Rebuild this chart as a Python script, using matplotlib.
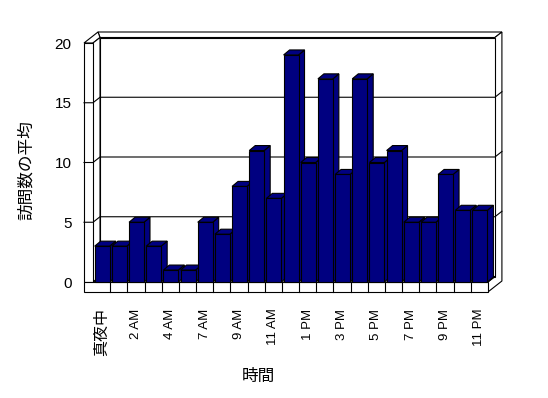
import matplotlib
matplotlib.use('Agg')
import matplotlib.pyplot as plt
from matplotlib.patches import Polygon, Rectangle

# average visits per hour (no 6 AM slot in the source data)
hours = ['真夜中', '1 AM', '2 AM', '3 AM', '4 AM', '5 AM', '7 AM', '8 AM', '9 AM', '10 AM',
         '11 AM', '12 PM', '1 PM', '2 PM', '3 PM', '4 PM', '5 PM', '6 PM', '7 PM', '8 PM',
         '9 PM', '10 PM', '11 PM']
visits = [3, 3, 5, 3, 1, 1, 5, 4, 8, 11, 7, 19, 10, 17, 9, 17, 10, 11, 5, 5, 9, 6, 6]
y_ticks = [0, 5, 10, 15, 20]

BAR = '#000080'
LW = 0.8
SX, SY = 17.17, 11.95          # pixels per category / per unit
DX, DY = 7 / SX, 5.5 / SY      # depth of the walls
BDX, BDY = 6 / SX, 5 / SY      # depth of the bars
W, H = 9 / SX, 10 / SY         # thickness of left wall and floor

fig = plt.figure(figsize=(5.48, 3.98), dpi=100)
ax = fig.add_axes([80 / 548, (398 - 296) / 398, 426 / 548, 266 / 398])
ax.set_xlim((80 - 93) / SX, (506 - 93) / SX)
ax.set_ylim((282 - 296) / SY, (282 - 30) / SY)
for s in ax.spines.values():
    s.set_visible(False)

n = len(visits)
X1 = n
YT = y_ticks[-1]


def poly(pts, fc='white', z=1):
    ax.add_patch(Polygon(pts, closed=True, facecolor=fc, edgecolor='black',
                         lw=LW, zorder=z, clip_on=False))


# walls and floor
poly([(DX, YT + DY), (X1 + DX, YT + DY), (X1 + 2 * DX, YT + 2 * DY), (-W + 2 * DX, YT + 2 * DY)])
poly([(-W, YT), (0, YT), (DX, YT + DY), (-W + 2 * DX, YT + 2 * DY)])
poly([(X1 + DX, YT + DY), (X1 + 2 * DX, YT + 2 * DY), (X1 + 2 * DX, -H + 2 * DY),
      (X1, -H), (X1, 0), (X1 + DX, DY)])
ax.add_patch(Rectangle((DX, DY), X1, YT, facecolor='white', edgecolor='black',
                       lw=LW, zorder=1, clip_on=False))
poly([(0, 0), (0, YT), (DX, YT + DY), (DX, DY)])
poly([(0, 0), (X1, 0), (X1 + DX, DY), (DX, DY)])
ax.add_patch(Rectangle((-W, 0), W, YT, facecolor='white', edgecolor='black',
                       lw=LW, zorder=1, clip_on=False))
ax.add_patch(Rectangle((-W, -H), X1 + W, H, facecolor='white', edgecolor='black',
                       lw=LW, zorder=1, clip_on=False))
for k in range(1, n):
    ax.plot([k, k], [-H, 0], color='black', lw=LW, zorder=1, clip_on=False)

# gridlines
for v in y_ticks[1:-1]:
    ax.plot([-W, 0, DX, X1 + DX, X1 + 2 * DX],
            [v, v, v + DY, v + DY, v + 2 * DY],
            color='black', lw=LW, zorder=1.5, clip_on=False)

# bars: side and top faces, then the front faces
bx = [i + 0.1 for i in range(n)]
bw = 0.87
for x, v in zip(bx, visits):
    poly([(x + bw, 0), (x + bw, v), (x + bw + BDX, v + BDY), (x + bw + BDX, BDY)], BAR, 2)
    poly([(x, v), (x + bw, v), (x + bw + BDX, v + BDY), (x + BDX, v + BDY)], BAR, 2)
ax.bar(bx, visits, width=bw, align='edge', color=BAR, edgecolor='black',
       lw=LW, zorder=3)

# ticks
ax.set_yticks(y_ticks)
ax.set_yticklabels([str(t) for t in y_ticks], family='Liberation Sans', fontsize=11)
ax.tick_params(axis='y', length=0, pad=6)

idx = list(range(0, n, 2))
ax.set_xticks([i + 0.5 for i in idx])
ax.set_xticklabels([hours[i] for i in idx], rotation=90)
ax.tick_params(axis='x', length=0, pad=9)
for lab in ax.get_xticklabels():
    if lab.get_text() == '真夜中':
        lab.set_family(['Noto Sans CJK JP', 'DejaVu Sans'])
        lab.set_fontsize(11.5)
    else:
        lab.set_family('Liberation Sans')
        lab.set_fontsize(9.5)

fig.text(258 / 548, 1 - 376 / 398, '時間', ha='center', va='center',
         family=['Noto Sans CJK JP', 'DejaVu Sans'], fontsize=12)
fig.text(26 / 548, 1 - 170 / 398, '訪問数の平均', ha='center', va='center', rotation=90,
         family=['Noto Sans CJK JP', 'DejaVu Sans'], fontsize=12)

fig.savefig('out.png', dpi=100)
